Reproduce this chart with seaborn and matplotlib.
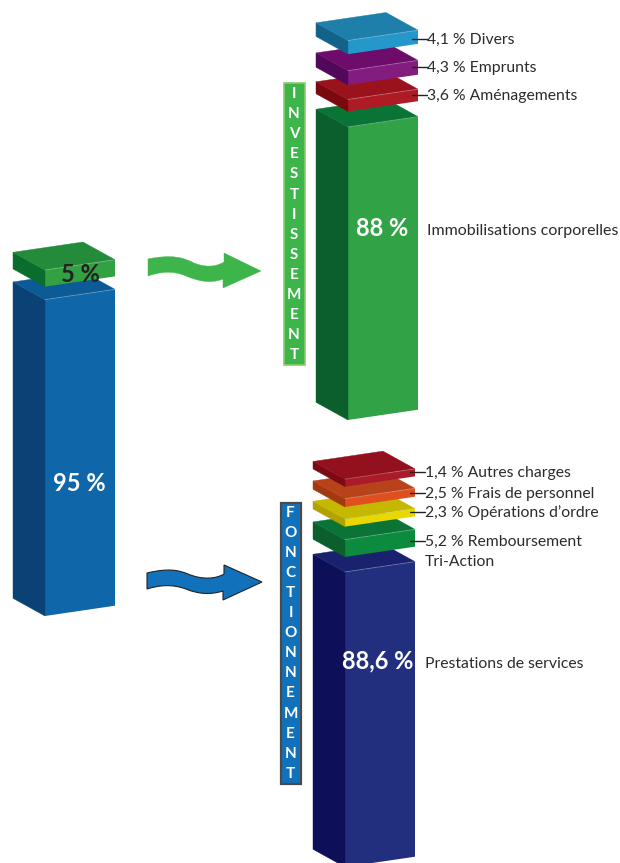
import matplotlib
matplotlib.use("Agg")
import matplotlib.pyplot as plt
import seaborn as sns
from matplotlib.patches import PathPatch, Polygon, Rectangle
from matplotlib.path import Path
from matplotlib.transforms import Affine2D

# Values, bottom of each stack first
budget_names = ["Fonctionnement", "Investissement"]
budget_values = [95, 5]
budget_fronts = ["#0F66A8", "#33A142"]
budget_sides = ["#0A4276", "#0A6D2E"]
budget_tops = ["#0C5A96", "#238B3A"]

invest_names = ["Immobilisations corporelles", "Aménagements", "Emprunts", "Divers"]
invest_values = [88, 3.6, 4.3, 4.1]
invest_fronts = ["#31A246", "#AE1B25", "#831C7F", "#2498CB"]
invest_sides = ["#0A5F2C", "#7A0A0F", "#51085A", "#12628A"]
invest_tops = ["#0A7436", "#9A121C", "#6D0C6B", "#1E7FAB"]

fonct_names = ["Prestations de services", "Remboursement\nTri-Action", "Opérations d’ordre",
               "Frais de personnel", "Autres charges"]
fonct_values = [88.6, 5.2, 2.3, 2.5, 1.4]
fonct_fronts = ["#222E7E", "#0C8A3E", "#E8D800", "#DE5020", "#AB1A28"]
fonct_sides = ["#0D1058", "#0A5F2C", "#B2A200", "#A3390E", "#7A0A14"]
fonct_tops = ["#1A2270", "#0A7436", "#C4B800", "#B8431A", "#93101E"]

PX_PER_PCT = 3.33
MIN_SLAB = 7.5
SLOPE = -10.3 / 70
DEPTH_X = 32
DEPTH_Y = 17.7
BAR_W = 70

sns.set_style("white")
plt.rcParams["font.family"] = ["Lato", "DejaVu Sans"]

fig = plt.figure(figsize=(6.2, 8.63), dpi=100)
ax = fig.add_axes([0, 0, 1, 1])


def fmt(value):
    return f"{value:g}".replace(".", ",") + " %"


def draw_stack(x0, base, values, gaps, fronts, sides, tops):
    """Draws one column as skewed seaborn bars."""
    y = base
    order = 2
    for value, gap, front, side, top_col in zip(values, gaps, fronts, sides, tops):
        h = max(value * PX_PER_PCT, MIN_SLAB)
        sns.barplot(x=[x0 + BAR_W / 2], y=[h], color=front, saturation=1, width=BAR_W,
                    native_scale=True, errorbar=None, ax=ax)
        bar = ax.patches[-1]
        top = y - h
        bar.set_y(top)
        skew = Affine2D.from_values(1, SLOPE, 0, 1, 0, -SLOPE * x0)
        bar.set_transform(skew + ax.transData)
        bar.set_zorder(order)
        bar.set_linewidth(0)

        xr = x0 + BAR_W
        top_r = top + SLOPE * BAR_W
        ax.add_patch(Polygon([(x0 - DEPTH_X, top - DEPTH_Y), (x0, top), (x0, top + h),
                              (x0 - DEPTH_X, top + h - DEPTH_Y)],
                             facecolor=side, edgecolor=side, lw=0.3, zorder=order))
        ax.add_patch(Polygon([(x0 - DEPTH_X, top - DEPTH_Y), (xr - DEPTH_X, top_r - DEPTH_Y),
                              (xr, top_r), (x0, top)],
                             facecolor=top_col, edgecolor=top_col, lw=0.3, zorder=order))
        ax.plot([x0, xr], [top, top_r], color="white", alpha=0.25, lw=0.7, zorder=order + 0.5)
        order += 1
        y = top - gap


draw_stack(45, 616, budget_values, [13, 0], budget_fronts, budget_sides, budget_tops)
draw_stack(348, 420, invest_values, [15.5, 14.5, 16.5, 0], invest_fronts, invest_sides, invest_tops)
draw_stack(345, 867, fonct_values, [15, 13, 12, 12, 0], fonct_fronts, fonct_sides, fonct_tops)

# Values on the large bars
big_size = 17
ax.text(79, 483, fmt(budget_values[0]), color="white", fontsize=big_size, fontweight="bold",
        ha="center", va="center", zorder=20)
ax.text(80, 274, fmt(budget_values[1]), color="#222222", fontsize=big_size, fontweight="bold",
        ha="center", va="center", zorder=20)
ax.text(382, 228, fmt(invest_values[0]), color="white", fontsize=big_size, fontweight="bold",
        ha="center", va="center", zorder=20)
ax.text(378, 661, fmt(fonct_values[0]), color="white", fontsize=big_size, fontweight="bold",
        ha="center", va="center", zorder=20)

# Labels
label_size = 11.3
label_col = "#2B2B2B"
ax.text(427, 231, invest_names[0], fontsize=11.5, color=label_col, va="center", zorder=20)
ax.text(425, 664, fonct_names[0], fontsize=label_size, color=label_col, va="center", zorder=20)

for name, value, y in zip(invest_names[1:], invest_values[1:], [95.3, 66.7, 38.7]):
    ax.plot([412, 427], [y, y], color="#222222", lw=1, zorder=19)
    ax.text(427, y + 1, f"{fmt(value)} {name}", fontsize=label_size, color=label_col, va="center", zorder=20)

for name, value, y in zip(fonct_names[1:], fonct_values[1:], [540.7, 512, 493, 472]):
    ax.plot([410, 425], [y, y], color="#222222", lw=1, zorder=19)
    lines = name.split("\n")
    ax.text(425, y + 1, f"{fmt(value)} {lines[0]}", fontsize=label_size, color=label_col, va="center", zorder=20)
    if len(lines) > 1:
        ax.text(425, y + 21.5, lines[1], fontsize=label_size, color=label_col, va="center", zorder=20)

# Vertical word boxes
ax.add_patch(Rectangle((283.5, 83), 21, 282, facecolor="#3DB54A", edgecolor="#8CCB6C", lw=1.2, zorder=5))
ax.add_patch(Rectangle((280.5, 503), 20, 281, facecolor="#1172BB", edgecolor="#4A4A4A", lw=1.6, zorder=5))
for word, xc, y_start, step in [("INVESTISSEMENT", 294, 94.5, 20), ("FONCTIONNEMENT", 290.5, 512.5, 20.1)]:
    for i, letter in enumerate(word):
        ax.text(xc, y_start + i * step, letter, color="white", fontsize=11, fontweight="bold",
                ha="center", va="center", zorder=20)


def wavy_arrow(pts, face, edge, lw):
    codes = [Path.MOVETO] + [Path.CURVE4] * 6 + [Path.LINETO] * 4 + [Path.CURVE4] * 6 + [Path.CLOSEPOLY]
    ax.add_patch(PathPatch(Path(pts, codes), facecolor=face, edgecolor=edge, lw=lw, zorder=5))


wavy_arrow([(148, 259), (172, 254), (184, 258), (192, 262), (204, 268), (216, 267), (224, 262),
            (224, 253), (261, 271), (223, 288), (223, 279), (210, 284), (198, 281), (186, 276),
            (172, 270), (160, 272), (148, 276), (148, 259)], "#3DB54A", "#3DB54A", 0.3)
wavy_arrow([(147, 573), (168, 568), (178, 570), (188, 574), (202, 580), (216, 579), (224, 574),
            (224, 565), (262, 582), (223, 600), (223, 591), (210, 595), (198, 594), (186, 589),
            (172, 584), (160, 585), (147, 589), (147, 573)], "#1172BB", "#222222", 0.8)

ax.set_xlim(0, 620)
ax.set_ylim(863, 0)
ax.axis("off")

fig.savefig("out.png", dpi=100)
